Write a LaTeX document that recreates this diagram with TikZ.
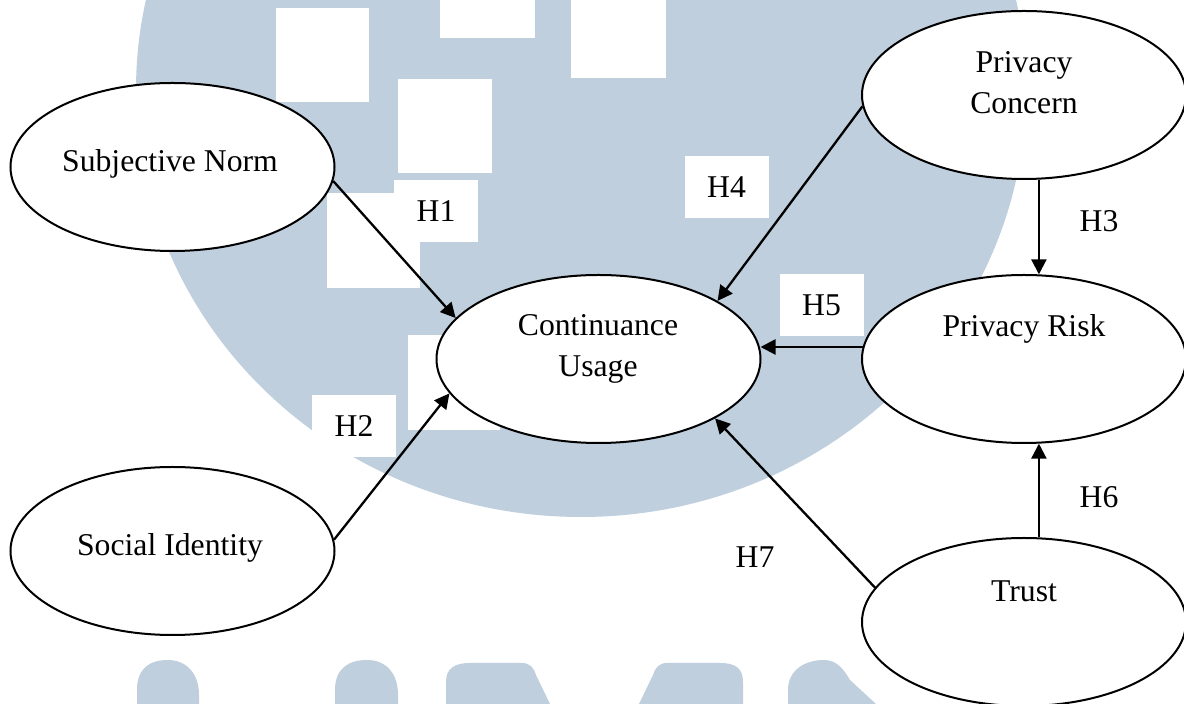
\documentclass[tikz,border=0pt]{standalone}
\usepackage{fontspec}
\setmainfont{Liberation Serif}
\usetikzlibrary{arrows.meta,shapes.geometric,calc}
\definecolor{wm}{RGB}{191,207,221}
\tikzset{
  construct/.style={ellipse,draw=black,line width=1pt,fill=white,minimum width=162pt,minimum height=84pt,inner sep=0pt},
  lbl/.style={anchor=base,inner sep=0pt,align=center,font=\fontsize{15.85}{20.5}\selectfont},
  hlab/.style={fill=white,minimum width=42pt,minimum height=31pt,inner sep=0pt,font=\fontsize{15.85}{20.5}\selectfont},
  path/.style={line width=1.15pt,-{Triangle[length=7.5pt,width=7.5pt]}},
  wmshape/.style={fill=wm,draw=none},
  wmhole/.style={fill=white,draw=none}
}
\begin{document}
\begin{tikzpicture}[x=0.5pt,y=-0.5pt]
\useasboundingbox (0,0) rectangle (1184,704);
\fill[white] (0,0) rectangle (1184,704);
% watermark
\begin{scope}
\clip (0,0) rectangle (1184,704);
\fill[wm] (581,90) ellipse [x radius=445, y radius=427];
\fill[wmhole] (276,8) rectangle (369,102);
\fill[wmhole] (440,0) rectangle (535,38);
\fill[wmhole] (571,0) rectangle (666,78);
\fill[wmhole] (398,79) rectangle (492,173);
\fill[wmhole] (327,193) rectangle (420,288);
\fill[wmhole] (408,335) rectangle (500,430);
\fill[wmshape] (137,704) -- (137,690) .. controls (137,668) and (150,660) .. (168,660) .. controls (185,660) and (199,672) .. (199,695) -- (199,704) -- cycle;
\fill[wmshape] (335,704) -- (335,690) .. controls (335,668) and (349,660) .. (367,660) .. controls (385,660) and (398,672) .. (398,695) -- (398,704) -- cycle;
\fill[wmshape] (446,704) -- (446,682) .. controls (446,668) and (455,663) .. (470,663) -- (522,663) .. controls (530,663) and (534,668) .. (536,675) -- (550,704) -- cycle;
\fill[wmshape] (639,704) -- (653,675) .. controls (655,668) and (659,663) .. (667,663) -- (720,663) .. controls (735,663) and (743,668) .. (743,682) -- (743,704) -- cycle;
\fill[wmshape] (788,704) -- (788,690) .. controls (788,670) and (805,660) .. (824,660) .. controls (836,660) and (843,668) .. (850,680) -- (876,704) -- cycle;
\end{scope}
% constructs
\node[construct] (sn) at (172.5,167) {};
\node[construct] (si) at (172.5,551) {};
\node[construct] (cu) at (598.5,359) {};
\node[construct] (pc) at (1024,95) {};
\node[construct] (pr) at (1024,359) {};
\node[construct] (tr) at (1024,622) {};
% texts
\node[lbl] (tsn) at (170,172) {Subjective Norm};
\node[lbl] (tsi) at (170,556) {Social Identity};
\node[lbl] (tcu) at (598,377) {Continuance\\Usage};
\node[lbl] (tpc) at (1024,114) {Privacy\\Concern};
\node[lbl] (tpr) at (1024,337) {Privacy Risk};
\node[lbl] (ttr) at (1024,602) {Trust};
% paths
\draw[path] (sn.-5.5) -- (cu.164.5);
\draw[path] (si.4.2) -- (cu.193.9);
\draw[path] (pc.184.6) -- (cu.26.6);
\draw[path] (pc.-80) -- (pr.80);
\draw[path] ($(pr.west)+(2,-12)$) -- ($(cu.east)+(-1,-12)$);
\draw[path] (tr.80) -- (pr.-80);
\draw[path] (tr.167) -- (cu.-27.3);
% hypothesis labels
\node[hlab] (h1) at (436,211) {H1};
\node[hlab] (h2) at (354,426) {H2};
\node[hlab] (h3) at (1099,221) {H3};
\node[hlab] (h4) at (726.5,187.5) {H4};
\node[hlab] (h5) at (821.5,305.5) {H5};
\node[hlab] (h6) at (1099,497) {H6};
\node[hlab] (h7) at (755,557) {H7};
\end{tikzpicture}
\end{document}
